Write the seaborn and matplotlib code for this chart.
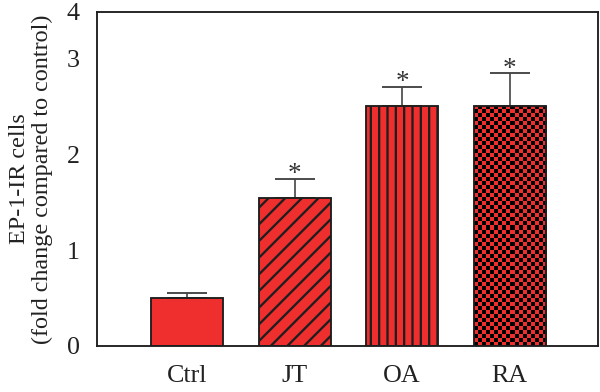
import numpy as np
import matplotlib
matplotlib.use("Agg")
import matplotlib.pyplot as plt
from matplotlib.colors import ListedColormap
import seaborn as sns

# values
groups = ["Ctrl", "JT", "OA", "RA"]
fold_change = [0.50, 1.55, 2.51, 2.51]
sem_up = [0.05, 0.20, 0.20, 0.34]
signif = ["", "*", "*", "*"]
hatches = ["", "///", "|||", None]   # None -> checkerboard
y_ticks = [0, 1, 2, 3, 3.49]
y_tick_labels = ["0", "1", "2", "3", "4"]

RED = "#EF2E2E"
DARK = "#1e1e1e"

sns.set_theme(style="white")
plt.rcParams["font.family"] = ["Liberation Serif", "DejaVu Serif"]
plt.rcParams["hatch.linewidth"] = 1.1

fig = plt.figure(figsize=(4, 392 / 150), dpi=150)
ax = fig.add_axes([97 / 600, 46 / 392, 501 / 600, 334 / 392])

sns.barplot(x=groups, y=fold_change, color=RED, saturation=1, width=0.67,
            edgecolor=DARK, linewidth=0.9, errorbar=None, ax=ax)

ax.errorbar(range(len(groups)), fold_change, yerr=[[0] * len(groups), sem_up],
            fmt="none", ecolor="#444444", elinewidth=0.8, capsize=9.4, capthick=0.9,
            zorder=0.5)

for i, (m, e, s) in enumerate(zip(fold_change, sem_up, signif)):
    if s:
        ax.annotate(s, xy=(i, m + e), xytext=(0, -4), textcoords="offset points",
                    ha="center", va="bottom", fontsize=13, color="#333333")

ax.set_xlim(-0.836, 3.82)
ax.set_ylim(0, 3.49)

# hatches / checkerboard
for patch, h in zip(ax.patches, hatches):
    if h:
        patch.set_hatch(h)
    elif h is None:
        x0, y0 = patch.get_x(), patch.get_y()
        x1, y1 = x0 + patch.get_width(), y0 + patch.get_height()
        p0 = ax.transData.transform((x0, y0))
        p1 = ax.transData.transform((x1, y1))
        ncol = 18
        nrow = int(round(ncol * (p1[1] - p0[1]) / (p1[0] - p0[0])))
        board = np.indices((nrow, ncol)).sum(axis=0) % 2
        im = ax.imshow(board, cmap=ListedColormap([RED, "black"]),
                       extent=(x0, x1, y0, y1), aspect="auto",
                       interpolation="nearest", zorder=0.9)
        im.set_clip_path(patch)
        patch.set_facecolor("none")
        patch.set_zorder(1)

ax.set_xlim(-0.836, 3.82)
ax.set_ylim(0, 3.49)
ax.set_yticks(y_ticks)
ax.set_yticklabels(y_tick_labels)

for side in ["left", "bottom", "top", "right"]:
    ax.spines[side].set_color(DARK)
    ax.spines[side].set_linewidth(0.9)

ax.tick_params(axis="both", which="both", direction="out", length=4.3,
               width=0.9, color=DARK, labelsize=12.5, labelcolor="#222222")
ax.tick_params(axis="x", pad=5)
ax.tick_params(axis="y", pad=4)

ax.set_xlabel("")
ax.set_ylabel("EP-1-IR cells\n(fold change compared to control)", fontsize=11.6,
              color="#222222", labelpad=6.5, linespacing=1.1)

fig.savefig("out.png", dpi=150)
